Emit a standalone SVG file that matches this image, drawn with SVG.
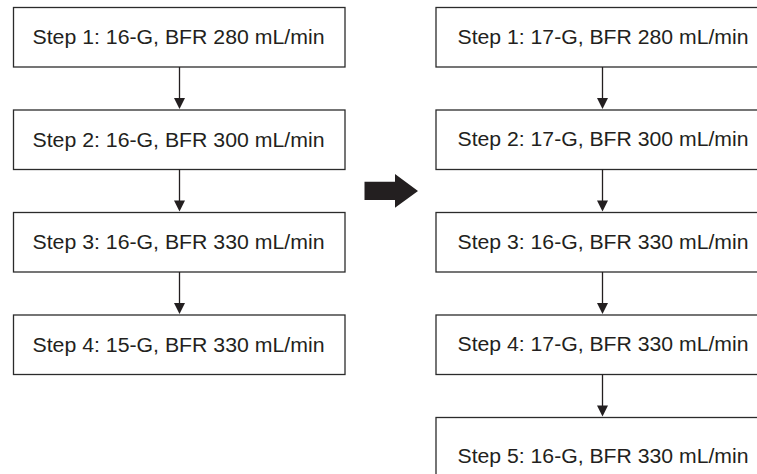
<svg xmlns="http://www.w3.org/2000/svg" width="757" height="474" viewBox="0 0 757 474">
<defs>
<style>
.box{fill:#fff;stroke:#2b2b2b;stroke-width:1.3}
.lbl{font-family:"Liberation Sans",Arial,sans-serif;font-size:19.5px;fill:#231f20;text-anchor:middle}
.con{stroke:#231f20;stroke-width:1.3;fill:none}
.head{fill:#231f20}
</style>
</defs>
<rect width="757" height="474" fill="#fff"/>
<g id="L1"><rect class="box" x="13.5" y="7.5" width="331.5" height="59.5"/><text class="lbl" x="178.5" y="44" textLength="292" lengthAdjust="spacingAndGlyphs">Step 1: 16-G, BFR 280 mL/min</text></g>
<g id="L2"><rect class="box" x="13.5" y="110" width="331.5" height="59.5"/><text class="lbl" x="178.5" y="146.5" textLength="292" lengthAdjust="spacingAndGlyphs">Step 2: 16-G, BFR 300 mL/min</text></g>
<g id="L3"><rect class="box" x="13.5" y="212.5" width="331.5" height="59.5"/><text class="lbl" x="178.5" y="249" textLength="292" lengthAdjust="spacingAndGlyphs">Step 3: 16-G, BFR 330 mL/min</text></g>
<g id="L4"><rect class="box" x="13.5" y="315" width="331.5" height="59.5"/><text class="lbl" x="178.5" y="351.7" textLength="292" lengthAdjust="spacingAndGlyphs">Step 4: 15-G, BFR 330 mL/min</text></g>
<g id="R1"><rect class="box" x="436" y="7.5" width="333" height="59.5"/><text class="lbl" x="603" y="43.5" textLength="291" lengthAdjust="spacingAndGlyphs">Step 1: 17-G, BFR 280 mL/min</text></g>
<g id="R2"><rect class="box" x="436" y="110" width="333" height="59.5"/><text class="lbl" x="603" y="146" textLength="291" lengthAdjust="spacingAndGlyphs">Step 2: 17-G, BFR 300 mL/min</text></g>
<g id="R3"><rect class="box" x="436" y="212.5" width="333" height="59.5"/><text class="lbl" x="603" y="248.5" textLength="291" lengthAdjust="spacingAndGlyphs">Step 3: 16-G, BFR 330 mL/min</text></g>
<g id="R4"><rect class="box" x="436" y="315" width="333" height="59.5"/><text class="lbl" x="603" y="351" textLength="291" lengthAdjust="spacingAndGlyphs">Step 4: 17-G, BFR 330 mL/min</text></g>
<g id="R5"><rect class="box" x="436" y="417.5" width="333" height="80"/><text class="lbl" x="603" y="463" textLength="291" lengthAdjust="spacingAndGlyphs">Step 5: 16-G, BFR 330 mL/min</text></g>
<g id="connectors">
<line class="con" x1="179.5" y1="67" x2="179.5" y2="100"/><polygon class="head" points="174,98 185,98 179.5,109"/>
<line class="con" x1="179.5" y1="169.5" x2="179.5" y2="202.5"/><polygon class="head" points="174,200.5 185,200.5 179.5,211.5"/>
<line class="con" x1="179.5" y1="272" x2="179.5" y2="305"/><polygon class="head" points="174,303 185,303 179.5,314"/>
<line class="con" x1="602.5" y1="67" x2="602.5" y2="100"/><polygon class="head" points="597,98 608,98 602.5,109"/>
<line class="con" x1="602.5" y1="169.5" x2="602.5" y2="202.5"/><polygon class="head" points="597,200.5 608,200.5 602.5,211.5"/>
<line class="con" x1="602.5" y1="272" x2="602.5" y2="305"/><polygon class="head" points="597,303 608,303 602.5,314"/>
<line class="con" x1="602.5" y1="374.5" x2="602.5" y2="407.5"/><polygon class="head" points="597,405.5 608,405.5 602.5,416.5"/>
</g>
<g id="bigArrow"><polygon fill="#231f20" points="364.5,181.7 395,181.7 395,174 418,191 395,207.7 395,200 364.5,200"/></g>
</svg>
